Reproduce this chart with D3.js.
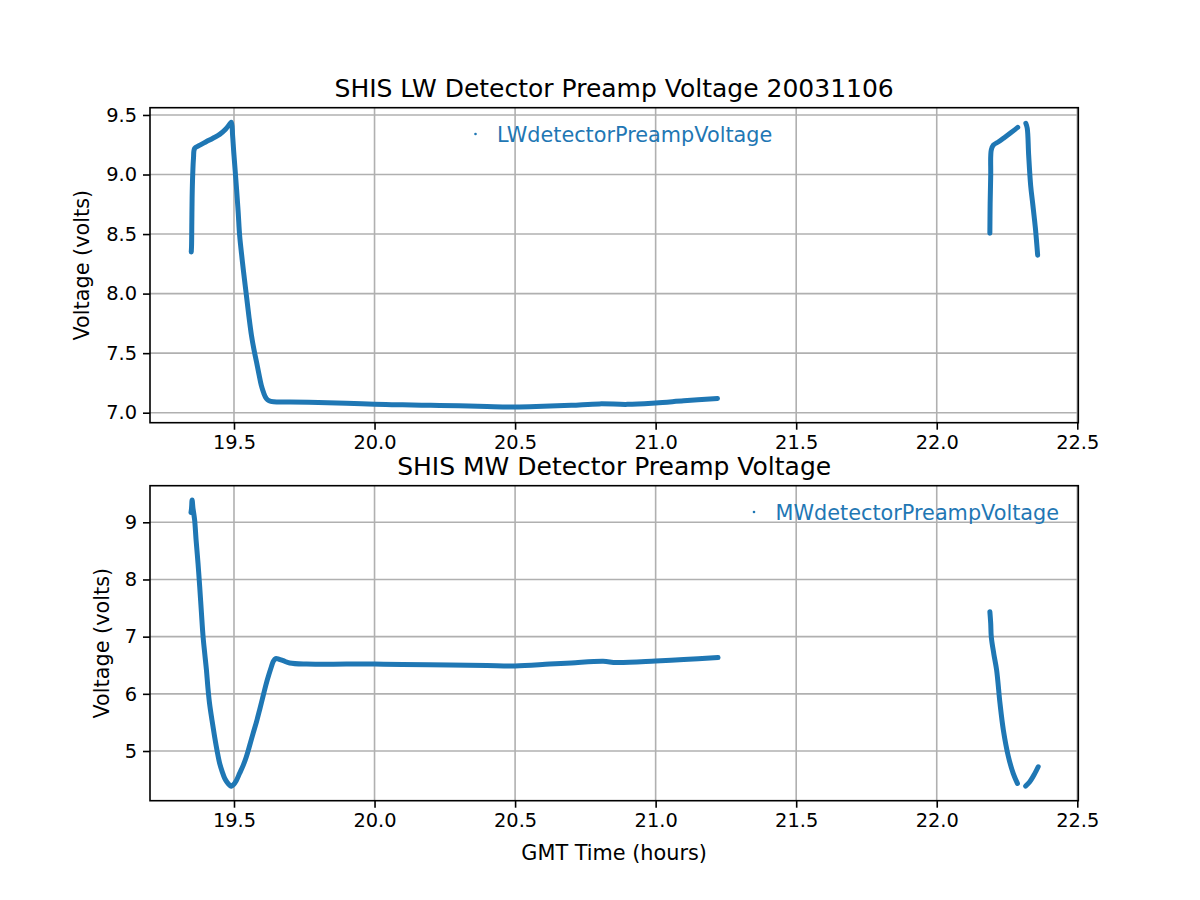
<!DOCTYPE html>
<html>
<head>
<meta charset="utf-8">
<script src="https://cdn.jsdelivr.net/npm/d3@7"></script>
<style>
  html, body { margin: 0; padding: 0; background: #fff; }
  svg { display: block; font-family: "DejaVu Sans", sans-serif; }
</style>
</head>
<body>
<svg id="chart" width="1200" height="900"></svg>
<script>
// ---------------- data ----------------
const xTicks = [19.5, 20.0, 20.5, 21.0, 21.5, 22.0, 22.5];
const lwTicks = [7.0, 7.5, 8.0, 8.5, 9.0, 9.5];
const mwTicks = [5, 6, 7, 8, 9];

const titleLW = "SHIS LW Detector Preamp Voltage 20031106";
const titleMW = "SHIS MW Detector Preamp Voltage";
const seriesLW = "LWdetectorPreampVoltage";
const seriesMW = "MWdetectorPreampVoltage";
const yLabel = "Voltage (volts)";
const xLabel = "GMT Time (hours)";

// LW segments: [time (h), voltage]
const lwSeg1 = [
  [19.348, 8.35], [19.349, 8.40], [19.350, 8.60], [19.351, 8.80], [19.353, 8.99],
  [19.356, 9.14], [19.360, 9.22], [19.375, 9.242], [19.401, 9.275], [19.425, 9.305],
  [19.449, 9.337], [19.470, 9.38], [19.487, 9.43], [19.491, 9.438], [19.495, 9.33],
  [19.499, 9.191], [19.509, 8.884], [19.515, 8.68], [19.520, 8.491], [19.527, 8.33],
  [19.534, 8.183], [19.544, 7.987], [19.553, 7.81], [19.562, 7.651], [19.571, 7.53],
  [19.580, 7.427], [19.589, 7.32], [19.597, 7.231], [19.605, 7.17], [19.615, 7.119],
  [19.625, 7.10], [19.641, 7.092],
  [19.70, 7.090], [19.80, 7.085], [19.90, 7.080], [20.00, 7.071], [20.10, 7.066],
  [20.20, 7.062], [20.30, 7.058], [20.40, 7.052], [20.50, 7.048], [20.60, 7.054],
  [20.70, 7.062], [20.80, 7.074], [20.90, 7.070], [21.00, 7.082], [21.10, 7.100],
  [21.22, 7.120]
];
const lwSeg2 = [
  [22.189, 8.506], [22.190, 8.758], [22.192, 8.995], [22.194, 9.206], [22.202, 9.248],
  [22.220, 9.275], [22.237, 9.304], [22.261, 9.346], [22.288, 9.396]
];
const lwSeg3 = [
  [22.317, 9.43], [22.322, 9.388], [22.327, 9.164], [22.334, 8.911], [22.342, 8.743],
  [22.351, 8.548], [22.359, 8.323]
];

// MW segments: [time (h), voltage]
const mwSeg1 = [
  [19.347, 9.17], [19.349, 9.25], [19.351, 9.39], [19.354, 9.25], [19.360, 9.04],
  [19.365, 8.70], [19.372, 8.283], [19.378, 7.874], [19.384, 7.43], [19.390, 7.00],
  [19.396, 6.70], [19.402, 6.416], [19.407, 6.12], [19.413, 5.834], [19.422, 5.53],
  [19.431, 5.25], [19.440, 5.00], [19.449, 4.784], [19.458, 4.64], [19.467, 4.522],
  [19.476, 4.45], [19.485, 4.40], [19.491, 4.385], [19.498, 4.41], [19.508, 4.48],
  [19.520, 4.61], [19.532, 4.74], [19.544, 4.90], [19.556, 5.10], [19.568, 5.309],
  [19.580, 5.51], [19.591, 5.717], [19.603, 5.95], [19.615, 6.184], [19.625, 6.35],
  [19.633, 6.474], [19.640, 6.57], [19.648, 6.615], [19.660, 6.605], [19.675, 6.58],
  [19.698, 6.54], [19.758, 6.52], [19.90, 6.52], [20.00, 6.52], [20.10, 6.515],
  [20.268, 6.505], [20.40, 6.495], [20.50, 6.488], [20.623, 6.52], [20.70, 6.54],
  [20.813, 6.568], [20.861, 6.548], [21.00, 6.574], [21.10, 6.60], [21.222, 6.635]
];
const mwSeg2 = [
  [22.189, 7.436], [22.192, 7.233], [22.194, 7.00], [22.203, 6.70], [22.213, 6.417],
  [22.225, 5.834], [22.237, 5.367], [22.255, 4.90], [22.272, 4.609], [22.287, 4.434]
];
const mwSeg3 = [
  [22.316, 4.387], [22.331, 4.462], [22.349, 4.609], [22.361, 4.725]
];

// ---------------- layout ----------------
const color = "#1f77b4";
const left = 150, right = 1078.3;
const svg = d3.select("#chart");

const x = d3.scaleLinear().domain([19.2012, 22.5036]).range([left, right]);

function panel(opt) {
  const { top, bottom, yDomain, yTicks, yFmt, segs, title, legendText, legendX, legendY, ylabelX } = opt;
  const y = d3.scaleLinear().domain(yDomain).range([bottom, top]);
  const g = svg.append("g");

  // grid
  g.append("g").selectAll("line").data(xTicks).join("line")
    .attr("x1", d => x(d)).attr("x2", d => x(d))
    .attr("y1", top).attr("y2", bottom)
    .attr("stroke", "#b0b0b0").attr("stroke-width", 1.6);
  g.append("g").selectAll("line").data(yTicks).join("line")
    .attr("x1", left).attr("x2", right)
    .attr("y1", d => y(d)).attr("y2", d => y(d))
    .attr("stroke", "#b0b0b0").attr("stroke-width", 1.6);

  // data
  const line = d3.line().x(d => x(d[0])).y(d => y(d[1])).curve(d3.curveCatmullRom.alpha(0.5));
  g.append("g").selectAll("path").data(segs).join("path")
    .attr("d", line)
    .attr("fill", "none")
    .attr("stroke", color)
    .attr("stroke-width", 5)
    .attr("stroke-linejoin", "round")
    .attr("stroke-linecap", "round");

  // axes
  const ax = d3.axisBottom(x).tickValues(xTicks).tickFormat(d3.format(".1f"))
    .tickSize(7).tickPadding(6);
  const ay = d3.axisLeft(y).tickValues(yTicks).tickFormat(d3.format(yFmt))
    .tickSize(7).tickPadding(6);
  const gx = g.append("g").attr("transform", `translate(0,${bottom})`).call(ax);
  const gy = g.append("g").attr("transform", `translate(${left},0)`).call(ay);
  [gx, gy].forEach(a => {
    a.select(".domain").remove();
    a.selectAll(".tick line").attr("stroke", "#000").attr("stroke-width", 1.6);
    a.selectAll(".tick text").attr("fill", "#000")
      .style("font-family", "DejaVu Sans").style("font-size", "19.4px");
  });

  // spines
  g.append("rect")
    .attr("x", left).attr("y", top)
    .attr("width", right - left).attr("height", bottom - top)
    .attr("fill", "none").attr("stroke", "#000").attr("stroke-width", 1.6);

  // title
  g.append("text").attr("x", (left + right) / 2).attr("y", top - 11)
    .attr("text-anchor", "middle").style("font-size", "25px").attr("fill", "#000")
    .text(title);

  // y label
  g.append("text")
    .attr("transform", `translate(${ylabelX},${(top + bottom) / 2}) rotate(-90)`)
    .attr("text-anchor", "middle").style("font-size", "20.8px").attr("fill", "#000")
    .text(yLabel);

  // legend (no frame)
  g.append("circle").attr("cx", legendX).attr("cy", legendY - 8).attr("r", 1.3).attr("fill", color);
  g.append("text").attr("x", legendX + 21.5).attr("y", legendY)
    .style("font-size", "20.8px").attr("fill", color).text(legendText);

  return g;
}

panel({
  top: 107.7, bottom: 422.7, yDomain: [6.916, 9.561], yTicks: lwTicks, yFmt: ".1f",
  segs: [lwSeg1, lwSeg2, lwSeg3], title: titleLW, legendText: seriesLW,
  legendX: 475.5, legendY: 142, ylabelX: 89
});
panel({
  top: 485.7, bottom: 800.7, yDomain: [4.131, 9.640], yTicks: mwTicks, yFmt: "d",
  segs: [mwSeg1, mwSeg2, mwSeg3], title: titleMW, legendText: seriesMW,
  legendX: 754, legendY: 520, ylabelX: 109
});

svg.append("text").attr("x", (left + right) / 2).attr("y", 860)
  .attr("text-anchor", "middle").style("font-size", "20.8px").attr("fill", "#000")
  .text(xLabel);
</script>
</body>
</html>
